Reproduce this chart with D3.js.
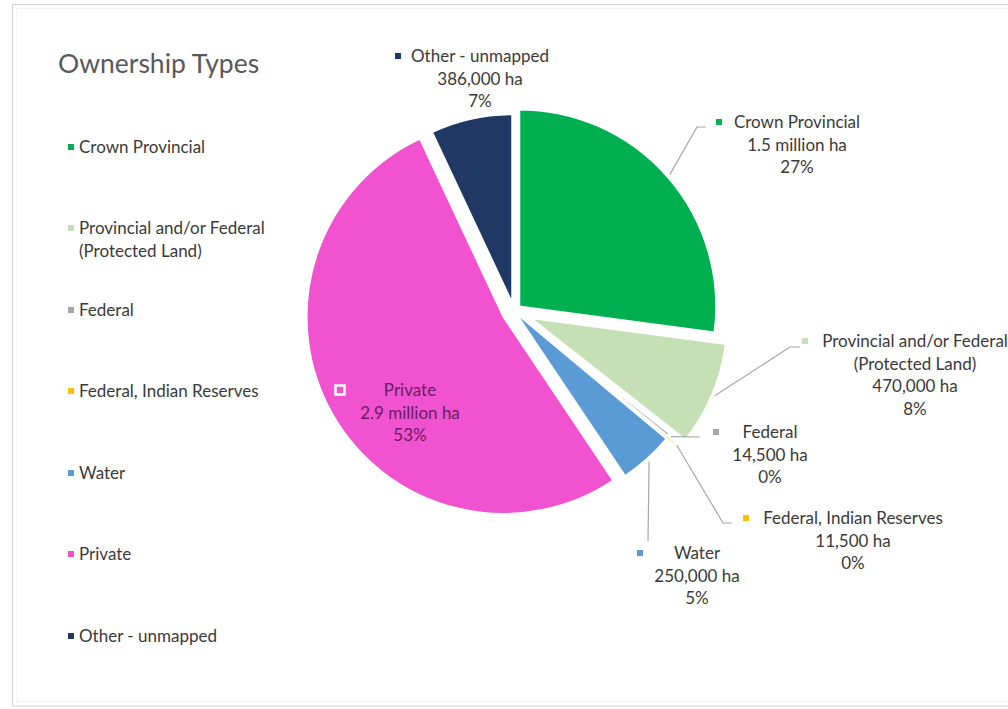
<!DOCTYPE html>
<html>
<head>
<meta charset="utf-8">
<script src="https://cdn.jsdelivr.net/npm/d3@7"></script>
<style>
  html, body { margin: 0; padding: 0; background: #ffffff; }
  svg { display: block; }
  text { font-family: Lato, "Open Sans", sans-serif; }
</style>
</head>
<body>
<svg id="chart" width="1008" height="709"></svg>
<script>
// Land area by ownership type (hectares), clockwise from 12 o'clock
const categories = [
  "Crown Provincial",
  "Provincial and/or Federal (Protected Land)",
  "Federal",
  "Federal, Indian Reserves",
  "Water",
  "Private",
  "Other - unmapped"
];
const hectares = [1500000, 470000, 14500, 11500, 250000, 2900000, 386000];
const areaLabels = ["1.5 million ha", "470,000 ha", "14,500 ha", "11,500 ha", "250,000 ha", "2.9 million ha", "386,000 ha"];
const percentLabels = ["27%", "8%", "0%", "0%", "5%", "53%", "7%"];
const legendLines = [
  ["Crown Provincial"],
  ["Provincial and/or Federal", "(Protected Land)"],
  ["Federal"],
  ["Federal, Indian Reserves"],
  ["Water"],
  ["Private"],
  ["Other - unmapped"]
];
const labelNameLines = [
  ["Crown Provincial"],
  ["Provincial and/or Federal", "(Protected Land)"],
  ["Federal"],
  ["Federal, Indian Reserves"],
  ["Water"],
  ["Private"],
  ["Other - unmapped"]
];

const colors = ["#00b050", "#c5e0b4", "#a5a5a5", "#ffc000", "#5b9bd5", "#f152cf", "#203864"];

// Pie geometry
const cx = 514, cy = 311;
// outer radius and pull-out distance of each slice
const radii = [197, 197, 197, 197, 197, 197, 189];
const explode = [7, 18, 1, 11, 2, 12, 8];

// Data-label placement: text centre x, first line centre y, key x,
// and the bend/end of the leader line (null when no leader is drawn)
const labelLayout = [
  { x: 797, y: 122, keyX: 719, bend: [697, 127], end: [706, 127] },
  { x: 915, y: 341, keyX: 805, bend: [790, 347], end: [800, 347] },
  { x: 770, y: 432, keyX: 716, bend: null, end: [700, 437] },
  { x: 853, y: 518, keyX: 746, bend: [723, 523], end: [732, 523] },
  { x: 697, y: 553, keyX: 640, bend: null, end: [648, 541] },
  { x: 410, y: 390, keyX: 340, inside: true },
  { x: 480, y: 56, keyX: 398, bend: null, end: null }
];

const FS = 17;
const LINE = 22.5;
const TEXT = "#3a3a3a";

const svg = d3.select("#chart");

// frame
svg.append("rect")
  .attr("x", 12.5).attr("y", 4.5).attr("width", 1010).attr("height", 701.5)
  .attr("fill", "#ffffff").attr("stroke", "#d6d6d6").attr("stroke-width", 1.2);
svg.append("rect")
  .attr("x", 16.5).attr("y", 8.5).attr("width", 1010).attr("height", 693)
  .attr("fill", "none").attr("stroke", "#f3f3f3").attr("stroke-width", 1);

// title
svg.append("text")
  .attr("x", 58).attr("y", 73)
  .attr("font-size", 26.5).attr("fill", "#595959")
  .text("Ownership Types");

// legend
const legendY = [147, 228, 310, 391, 473, 554, 636];
const legend = svg.append("g");
categories.forEach((c, i) => {
  const g = legend.append("g");
  g.append("rect")
    .attr("x", 68).attr("y", legendY[i] - 3).attr("width", 6).attr("height", 6)
    .attr("fill", colors[i]);
  legendLines[i].forEach((line, j) => {
    g.append("text")
      .attr("x", 79).attr("y", legendY[i] + j * LINE)
      .attr("dy", "0.36em")
      .attr("font-size", FS).attr("fill", TEXT)
      .text(line);
  });
});

// pie
const pie = d3.pie().sort(null).value(d => d)(hectares);

function offsetOf(d, i) {
  const a = (d.startAngle + d.endAngle) / 2;
  return [Math.sin(a) * explode[i], -Math.cos(a) * explode[i]];
}

const slices = svg.append("g").attr("transform", `translate(${cx},${cy})`);
slices.selectAll("path")
  .data(pie)
  .join("path")
  .attr("transform", (d, i) => { const o = offsetOf(d, i); return `translate(${o[0]},${o[1]})`; })
  .attr("d", (d, i) => d3.arc().innerRadius(0).outerRadius(radii[i])(d))
  .attr("fill", (d, i) => colors[i])
  .attr("stroke", "#ffffff")
  .attr("stroke-width", 2)
  .attr("stroke-linejoin", "round");

// leader lines
const leaders = svg.append("g")
  .attr("fill", "none").attr("stroke", "#a6a6a6").attr("stroke-width", 1.2);
pie.forEach((d, i) => {
  const L = labelLayout[i];
  if (!L.end) return;
  const a = (d.startAngle + d.endAngle) / 2;
  const o = offsetOf(d, i);
  const r = radii[i] + 3;
  const start = [cx + o[0] + Math.sin(a) * r, cy + o[1] - Math.cos(a) * r];
  const pts = [start];
  if (L.bend) pts.push(L.bend);
  pts.push(L.end);
  leaders.append("path").attr("d", d3.line()(pts));
});

// data labels
const labels = svg.append("g");
categories.forEach((c, i) => {
  const L = labelLayout[i];
  const lines = labelNameLines[i].concat([areaLabels[i], percentLabels[i]]);
  const fill = L.inside ? "#6a1d60" : TEXT;
  if (L.inside) {
    labels.append("rect")
      .attr("x", L.keyX - 4.5).attr("y", L.y - 4.5).attr("width", 9).attr("height", 9)
      .attr("fill", colors[i]).attr("stroke", "#ffffff").attr("stroke-width", 2.5);
  } else {
    labels.append("rect")
      .attr("x", L.keyX - 3).attr("y", L.y - 3).attr("width", 6).attr("height", 6)
      .attr("fill", colors[i]);
  }
  lines.forEach((line, j) => {
    labels.append("text")
      .attr("x", L.x).attr("y", L.y + j * LINE)
      .attr("dy", "0.36em")
      .attr("text-anchor", "middle")
      .attr("font-size", FS).attr("fill", fill)
      .text(line);
  });
});
</script>
</body>
</html>
